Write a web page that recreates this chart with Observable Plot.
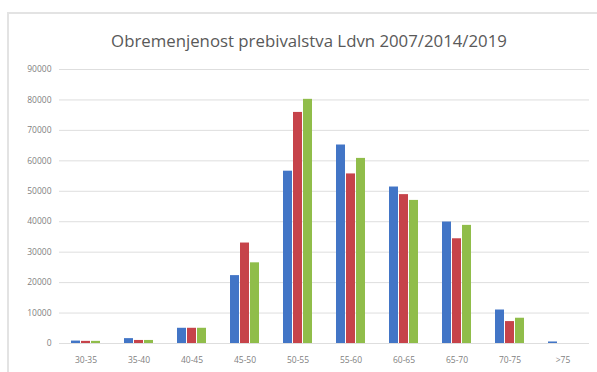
<!DOCTYPE html>
<html>
<head>
<meta charset="utf-8">
<script src="https://cdn.jsdelivr.net/npm/d3@7"></script>
<script src="https://cdn.jsdelivr.net/npm/@observablehq/plot@0.6"></script>
<style>
  html, body { margin: 0; padding: 0; background: #fff; }
  #wrap { position: relative; width: 597px; height: 372px; overflow: hidden; }
  #frame { position: absolute; left: 7px; top: 12px; width: 600px; height: 400px; border-left: 2px solid #e3e3e3; border-top: 2px solid #e3e3e3; box-sizing: border-box; pointer-events: none; }
  #title { position: absolute; left: 0; width: 618px; top: 30px; text-align: center; font-family: 'Open Sans', sans-serif; font-size: 16.8px; color: #595959; line-height: 22px; white-space: nowrap; }
</style>
</head>
<body>
<div id="wrap"><div id="frame"></div><div id="title"></div></div>
<script>
const title = "Obremenjenost prebivalstva Ldvn 2007/2014/2019";
const categories = ["30-35", "35-40", "40-45", "45-50", "50-55", "55-60", "60-65", "65-70", "70-75", ">75"];
const years = ["2007", "2014", "2019"];
const values2007 = [800, 1600, 5000, 22300, 56600, 65200, 51400, 39900, 11000, 500];
const values2014 = [700, 1000, 5000, 33000, 75900, 55700, 48900, 34400, 7200, 0];
const values2019 = [700, 1000, 5000, 26500, 80200, 60800, 47000, 38800, 8300, 0];
const colors = ["#4275c6", "#c6434a", "#90bd4a"];
const yTicks = [0, 10000, 20000, 30000, 40000, 50000, 60000, 70000, 80000, 90000];

const series = [values2007, values2014, values2019];
const data = [];
categories.forEach((c, i) => years.forEach((y, j) => data.push({cat: c, year: y, value: series[j][i]})));

document.getElementById("title").textContent = title;

const plot = Plot.plot({
  width: 597,
  height: 372,
  marginLeft: 58,
  marginRight: 7,
  marginTop: 69,
  marginBottom: 29,
  style: {fontFamily: "'Open Sans', sans-serif", fontSize: "8.5px", color: "#7f7f7f", background: "transparent"},
  fx: {domain: categories, paddingInner: 0, paddingOuter: 0, label: null, axis: "bottom", tickSize: 0, tickPadding: 13},
  x: {domain: years, paddingInner: 0.1, paddingOuter: 1, axis: null},
  y: {domain: [0, 90000], ticks: yTicks, tickFormat: d => String(d), label: null, tickSize: 0, tickPadding: 8, grid: false},
  color: {domain: years, range: colors},
  marks: [
    Plot.ruleY(yTicks, {stroke: "#dedede", strokeWidth: 1}),
    Plot.barY(data, {fx: "cat", x: "year", y: "value", fill: "year"})
  ]
});
document.getElementById("wrap").appendChild(plot);
plot.style.position = "absolute";
plot.style.left = "0";
plot.style.top = "0";
</script>
</body>
</html>
